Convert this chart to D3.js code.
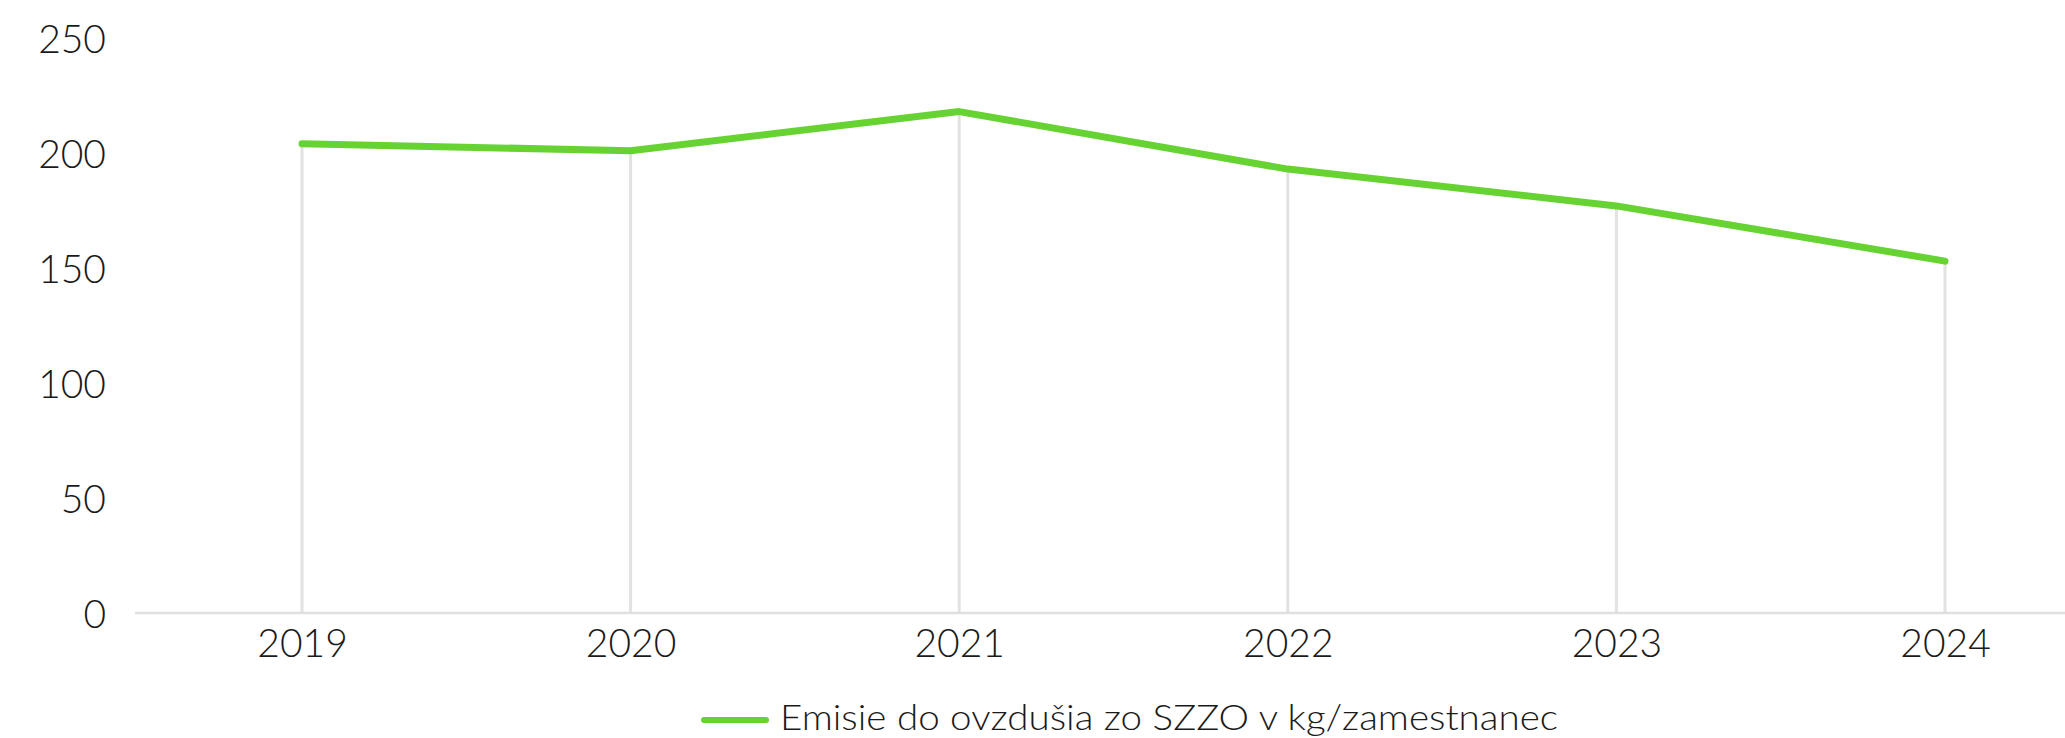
<!DOCTYPE html>
<html>
<head>
<meta charset="utf-8">
<script src="https://cdn.jsdelivr.net/npm/d3@7"></script>
<style>
  html, body { margin: 0; padding: 0; background: #ffffff; }
  svg { display: block; }
  text { font-family: Lato, "Open Sans", sans-serif; font-weight: 300; fill: #1a1a1a; }
</style>
</head>
<body>
<svg id="chart" width="2065" height="738"></svg>
<script>
const years = ["2019", "2020", "2021", "2022", "2023", "2024"];
const emissions = [204, 201, 218, 193, 177, 153];
const yTicks = [0, 50, 100, 150, 200, 250];
const seriesName = "Emisie do ovzdušia zo SZZO v kg/zamestnanec";

const W = 2065, H = 738;
const svg = d3.select("#chart");

const x = d3.scalePoint().domain(years).range([302, 1945]);
const y = d3.scaleLinear().domain([0, 250]).range([613, 38]);

const data = years.map((yr, i) => ({ year: yr, value: emissions[i] }));

// drop lines
svg.append("g").selectAll("line").data(data).join("line")
  .attr("x1", d => x(d.year)).attr("x2", d => x(d.year))
  .attr("y1", y(0)).attr("y2", d => y(d.value))
  .attr("stroke", "#e2e2e2").attr("stroke-width", 3);

// x axis baseline
const xAxis = d3.axisBottom(x).tickSize(0).tickPadding(0);
const gx = svg.append("g").attr("transform", `translate(0,${y(0)})`).call(xAxis);
gx.select(".domain").remove();
gx.append("line").attr("x1", 135).attr("x2", W).attr("y1", 0).attr("y2", 0)
  .attr("stroke", "#e0e0e0").attr("stroke-width", 2.5);
gx.selectAll(".tick text")
  .attr("y", 44).attr("dy", null)
  .attr("font-size", 39).attr("fill", "#1a1a1a")
  .style("font-family", "Lato, 'Open Sans', sans-serif").style("font-weight", 300);

// y axis labels
const yAxis = d3.axisLeft(y).tickValues(yTicks).tickSize(0).tickPadding(0);
const gy = svg.append("g").attr("transform", "translate(106,0)").call(yAxis);
gy.select(".domain").remove();
gy.selectAll(".tick text")
  .attr("x", 0).attr("dy", "0.36em")
  .attr("font-size", 39).attr("fill", "#1a1a1a")
  .style("font-family", "Lato, 'Open Sans', sans-serif").style("font-weight", 300);

// line
const line = d3.line().x(d => x(d.year)).y(d => y(d.value));
svg.append("path").datum(data)
  .attr("d", line)
  .attr("fill", "none")
  .attr("stroke", "#66d333")
  .attr("stroke-width", 7)
  .attr("stroke-linecap", "round")
  .attr("stroke-linejoin", "round");

// legend
const lg = svg.append("g");
lg.append("line").attr("x1", 704).attr("x2", 766).attr("y1", 720).attr("y2", 720)
  .attr("stroke", "#66d333").attr("stroke-width", 6).attr("stroke-linecap", "round");
lg.append("text").attr("x", 780).attr("y", 730)
  .attr("font-size", 35)
  .attr("textLength", 778).attr("lengthAdjust", "spacingAndGlyphs")
  .text(seriesName);
</script>
</body>
</html>
